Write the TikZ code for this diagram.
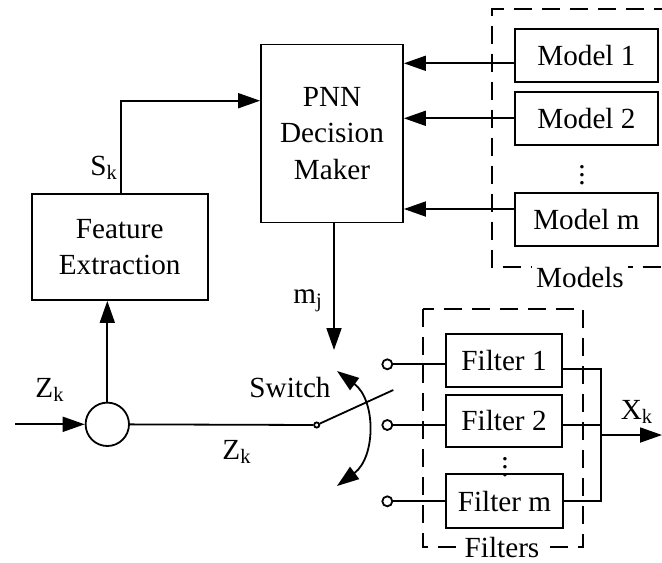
\documentclass[tikz,border=0pt]{standalone}
\usepackage{fontspec}
\setmainfont{Liberation Serif}
\usetikzlibrary{arrows.meta}
\begin{document}
\begin{tikzpicture}[x=0.5pt,y=-0.5pt, line width=0.9pt,
 every node/.style={font=\fontsize{14.6}{18.2}\selectfont},
 blk/.style={draw, align=center, inner sep=0pt},
 arr/.style={-{Triangle[length=11pt,width=7.5pt]}},
 dbl/.style={{Triangle[length=11pt,width=7.5pt]}-{Triangle[length=11pt,width=7.5pt]}},
 term/.style={draw, circle, fill=white, inner sep=0pt, minimum size=5pt},
 grp/.style={dash pattern=on 9pt off 5pt},
 glabel/.style={fill=white, inner sep=2pt},
 dots/.style={inner sep=0pt}]
\useasboundingbox (0,0) rectangle (662,562);
% PNN and models
\node[blk, minimum width=71pt, minimum height=89pt] (pnn) at (332,133.5) {PNN\\Decision\\Maker};
\node[blk, minimum width=71.3pt, minimum height=26.5pt] (m1) at (586.4,55.8) {Model 1};
\node[blk, minimum width=71.3pt, minimum height=26.6pt] (m2) at (586.4,118.3) {Model 2};
\node[blk, minimum width=71.3pt, minimum height=26.6pt] (mm) at (586.4,219.3) {Model m};
\node[dots] (mdots) at (582,169) {$\vdots$};
\draw[grp] (700,9.3) -- (492.3,9.3) -- (492.3,267.3) -- (700,267.3);
\node[glabel] (mlabel) at (580,278) {Models};
\draw[arr] (m1.west |- 0,63.3) -- (pnn.east |- 0,63.3);
\draw[arr] (m2.west |- 0,118.3) -- (pnn.east |- 0,118.3);
\draw[arr] (mm.west |- 0,209) -- (pnn.east |- 0,209);
% feature extraction
\node[blk, minimum width=88pt, minimum height=53pt] (fe) at (119.7,247) {Feature\\Extraction};
\draw[arr] (fe.north -| 121,0) |- (pnn.west |- 0,100.7);
\node (sk) at (104,168) {S\textsubscript{k}};
% input
\node[draw, circle, minimum size=21.7pt, inner sep=0pt] (sum) at (107.3,424.3) {};
\coordinate (in) at (15,424.3);
\draw[arr] (in) -- (sum);
\draw[arr] (sum) -- (fe.south -| sum);
\node (zk1) at (50,390) {Z\textsubscript{k}};
\node (zk2) at (237,452) {Z\textsubscript{k}};
% switch
\node[term, minimum size=2.6pt] (piv) at (316.7,425) {};
\draw (sum) -- (piv);
\coordinate (blade) at (393.3,390);
\draw (piv) -- (blade);
\node (swl) at (290,388) {Switch};
\coordinate (a1) at (337,371);
\coordinate (a2) at (337,486);
\draw[dbl] (a1) .. controls (376,400) and (376,457) .. (a2);
\coordinate (mjend) at (334,350);
\draw[arr] (pnn.south -| mjend) -- (mjend);
\node (mj) at (308,301) {m\textsubscript{j}};
% filters
\node[blk, minimum width=58.3pt, minimum height=26.5pt] (f1) at (504,360.8) {Filter 1};
\node[blk, minimum width=58.3pt, minimum height=26pt] (f2) at (504,420.7) {Filter 2};
\node[blk, minimum width=58.8pt, minimum height=26.7pt] (fm) at (504.5,501) {Filter m};
\node[dots] (fdots) at (505,461) {$\vdots$};
\draw[grp] (423.3,309.3) rectangle (583.3,546.7);
\node[glabel] (flabel) at (502,547) {Filters};
\node[term] (t1) at (387.3,364.3) {};
\node[term] (t2) at (387.3,425) {};
\node[term] (tm) at (387.3,501.3) {};
\draw (t1) -- (f1.west |- t1);
\draw (t2) -- (f2.west |- t2);
\draw (tm) -- (fm.west |- tm);
\coordinate (bus) at (600.7,435);
\draw (f1.east |- 0,369.3) -| (600.7,500.7) -- (fm.east |- 0,500.7);
\draw (f2.east |- 0,425) -- (600.7,425);
\coordinate (out) at (662,435);
\draw[arr] (bus) -- (out);
\node (xk) at (637,412) {X\textsubscript{k}};
\end{tikzpicture}
\end{document}
